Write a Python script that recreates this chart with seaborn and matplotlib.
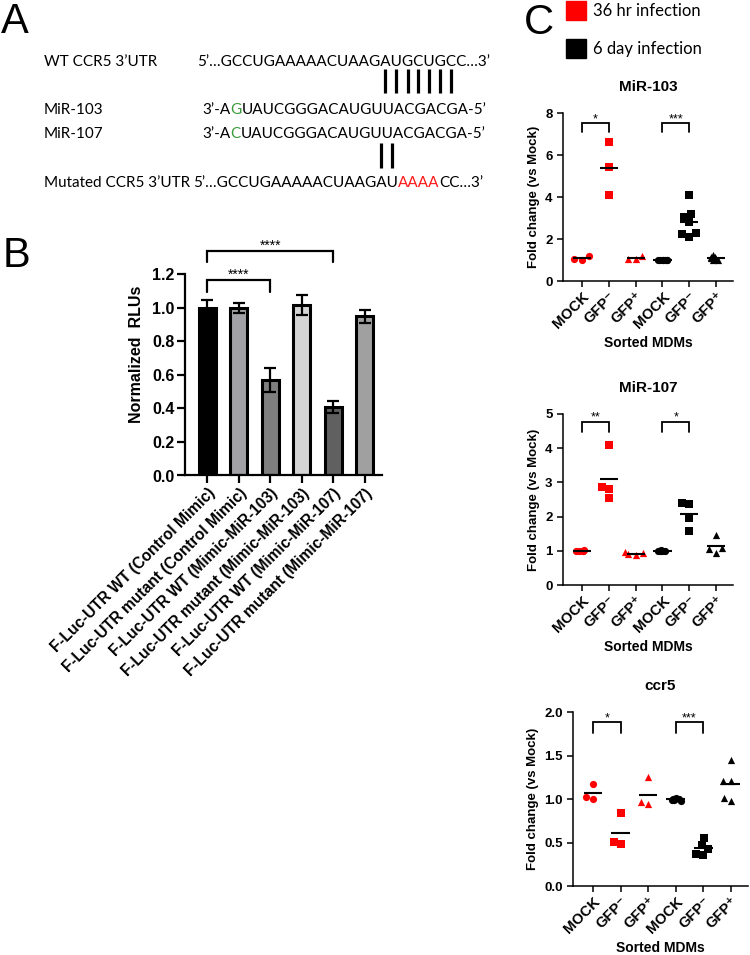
import warnings

import matplotlib.pyplot as plt
import numpy as np
import pandas as pd
import seaborn as sns
from matplotlib.font_manager import FontProperties
from matplotlib.patches import Rectangle
from matplotlib.ticker import FormatStrFormatter

warnings.filterwarnings("ignore")

# ---------------- panel A: seed pairing ----------------
wt_name = "WT CCR5 3’UTR"
wt_seq = "5’…GCCUGAAAAACUAAGAUGCUGCC…3’"
mir103_name = "MiR-103"
mir103_seq = ["3’-A", "G", "UAUCGGGACAUGUUACGACGA-5’"]
mir107_name = "MiR-107"
mir107_seq = ["3’-A", "C", "UAUCGGGACAUGUUACGACGA-5’"]
mut_name = "Mutated CCR5 3’UTR"
mut_seq = ["5’…GCCUGAAAAACUAAGAU", "AAAA", "CC…3’"]
wt_paired = "AUGCUGC"
mut_paired = "AU"

# ---------------- panel B: luciferase reporter ----------------
b_labels = ["F-Luc-UTR WT (Control Mimic)", "F-Luc-UTR mutant (Control Mimic)",
            "F-Luc-UTR WT (Mimic-MiR-103)", "F-Luc-UTR mutant (Mimic-MiR-103)",
            "F-Luc-UTR WT (Mimic-MiR-107)", "F-Luc-UTR mutant (Mimic-MiR-107)"]
b_means = [1.00, 1.00, 0.57, 1.02, 0.41, 0.95]
b_errs = [0.05, 0.03, 0.07, 0.06, 0.035, 0.04]
b_colors = ["#000000", "#a2a2a6", "#7f7f7f", "#d4d4d4", "#606060", "#a0a0a0"]

# ---------------- panel C: sorted MDMs ----------------
c_groups = ["MOCK", "GFP⁻", "GFP⁺", "MOCK", "GFP⁻", "GFP⁺"]
c_infection = ["36 hr infection"] * 3 + ["6 day infection"] * 3
c_colors = ["#ff0000"] * 3 + ["#000000"] * 3
c_markers = ["o", "s", "^", "o", "s", "^"]

mir103_values = [
    [1.18, 1.03, 1.02],
    [6.60, 5.45, 4.10],
    [1.18, 1.04, 1.03],
    [1.02, 1.01, 1.00, 1.00, 1.00, 0.99, 0.98],
    [4.10, 3.17, 3.06, 2.83, 2.30, 2.22, 2.11],
    [1.22, 1.16, 1.12, 1.10, 1.06, 1.02, 0.98],
]
mir107_values = [
    [1.01, 1.00, 1.00, 1.00, 0.99],
    [4.10, 2.88, 2.82, 2.55],
    [0.97, 0.93, 0.90, 0.88],
    [1.01, 1.00, 1.00, 1.00, 0.99],
    [2.40, 2.38, 1.95, 1.57],
    [1.45, 1.08, 1.04, 0.95],
]
ccr5_values = [
    [1.17, 1.02, 1.00],
    [0.84, 0.51, 0.48],
    [1.25, 0.96, 0.94],
    [1.01, 1.00, 1.00, 0.99, 0.99, 0.98],
    [0.55, 0.47, 0.42, 0.37, 0.36],
    [1.45, 1.21, 1.21, 1.01, 0.98],
]
mir103_sig = ["*", "***"]
mir107_sig = ["**", "*"]
ccr5_sig = ["*", "***"]

sns.set_style("ticks")
plt.rcParams["font.family"] = ["Liberation Sans", "DejaVu Sans"]
plt.rcParams["font.weight"] = "bold"
plt.rcParams["axes.labelweight"] = "bold"
plt.rcParams["axes.titleweight"] = "bold"
for key in ["axes.edgecolor", "xtick.color", "ytick.color", "text.color", "axes.labelcolor"]:
    plt.rcParams[key] = "black"

W, H = 750, 955
fig = plt.figure(figsize=(W / 100, H / 100), dpi=100)

# full-figure overlay in pixel units for the sequence diagram, letters and legend
ax_a = fig.add_axes([0, 0, 1, 1])
ax_a.set_xlim(0, W)
ax_a.set_ylim(H, 0)
ax_a.axis("off")
ax_a.patch.set_visible(False)
renderer = fig.canvas.get_renderer()


def text_width(s, fp):
    w, _, _ = renderer.get_text_width_height_descent(s, fp, ismath=False)
    return w


fp_a = FontProperties(family="Lato", weight="normal", size=10)
fp_a.set_size(10 * 291 / text_width(wt_seq, fp_a))


def seq_line(x, y, parts, colors):
    for s, c in zip(parts, colors):
        ax_a.text(x, y, s, fontproperties=fp_a, color=c, va="baseline", ha="left")
        x += text_width(s, fp_a)


def char_centers(x0, s, sub):
    i0 = s.index(sub)
    return [x0 + (text_width(s[:i], fp_a) + text_width(s[:i + 1], fp_a)) / 2
            for i in range(i0, i0 + len(sub))]


green = "#3a9b3a"
red_txt = "#ff1a1a"
ax_a.text(44, 66, wt_name, fontproperties=fp_a, va="baseline")
seq_line(197, 66, [wt_seq], ["black"])
ax_a.vlines(char_centers(197, wt_seq, wt_paired), 69, 93, color="black", lw=2.3)

ax_a.text(44, 114, mir103_name, fontproperties=fp_a, va="baseline")
seq_line(202, 114, mir103_seq, ["black", green, "black"])
ax_a.text(44, 138, mir107_name, fontproperties=fp_a, va="baseline")
seq_line(202, 138, mir107_seq, ["black", green, "black"])

mut_full = "".join(mut_seq)
ax_a.vlines(char_centers(193, mut_full, mut_paired + "AAAA")[:len(mut_paired)], 143, 168,
            color="black", lw=2.3)
ax_a.text(44, 187, mut_name, fontproperties=fp_a, va="baseline")
seq_line(193, 187, mut_seq, ["black", red_txt, "black"])

for letter, x, y in [("A", 1, 33), ("B", 3, 267), ("C", 524, 34)]:
    ax_a.text(x, y, letter, fontsize=30, fontweight="normal", va="baseline")

# legend of panel C
for i, (lab, col) in enumerate(zip(c_infection[::3], c_colors[::3])):
    y0 = 1 + i * 38
    ax_a.add_patch(Rectangle((566, y0), 20, 19, color=col))
    ax_a.text(593, y0 + 10, lab, family="Lato", fontsize=12, fontweight="normal",
              va="center")


def bracket(ax, x0, x1, y_top, y_bot, label, fs, lw):
    ax.plot([x0, x0, x1, x1], [y_bot, y_top, y_top, y_bot], color="black", lw=lw,
            clip_on=False, solid_joinstyle="miter")
    ax.annotate(label, xy=((x0 + x1) / 2, y_top), xytext=(0, 0.5),
                textcoords="offset points", ha="center", va="baseline",
                fontsize=fs, fontweight="normal", annotation_clip=False)


# ---------------- panel B ----------------
ax_b = fig.add_axes([185 / W, (H - 475.5) / H, 197 / W, 243 / H])
sns.barplot(x=b_labels, y=b_means, hue=b_labels, palette=b_colors, legend=False,
            saturation=1, width=0.53, edgecolor="black", linewidth=2.2, ax=ax_b)
ax_b.errorbar(np.arange(len(b_means)), b_means, yerr=b_errs, fmt="none",
              ecolor="black", elinewidth=1.6, capsize=4.2, capthick=1.6, zorder=4)
ax_b.set_xlim(-0.71, 5.55)
ax_b.set_ylim(0, 1.45)
ax_b.set_yticks(np.arange(0, 1.21, 0.2))
ax_b.yaxis.set_major_formatter(FormatStrFormatter("%.1f"))
ax_b.spines[["top", "right"]].set_visible(False)
ax_b.spines["left"].set_bounds(0, 1.2)
for s in ["left", "bottom"]:
    ax_b.spines[s].set_linewidth(1.6)
ax_b.tick_params(length=5.8, width=1.6, pad=1.5, labelsize=11.5)
ax_b.set_xticks(range(len(b_labels)))
ax_b.set_xticklabels(b_labels, rotation=45, ha="right", rotation_mode="anchor",
                     fontsize=11.2)
ax_b.set_ylabel("Normalized  RLUs", fontsize=11.5, labelpad=6)
bracket(ax_b, 0, 2, 1.167, 1.095, "****", 10, 1.6)
bracket(ax_b, 0, 4, 1.342, 1.275, "****", 10, 1.6)

# ---------------- panel C ----------------
c_keys = [f"{inf}: {grp}" for inf, grp in zip(c_infection, c_groups)]
np.random.seed(3)


def dot_panel(rect, values, title, yticks, yfmt, sig, br_top, br_bot, xlim):
    ax = fig.add_axes(rect)
    df = pd.DataFrame({
        "group": [k for k, v in zip(c_keys, values) for _ in v],
        "value": [x for v in values for x in v],
    })
    yspan = yticks[-1] - yticks[0]
    for key, col, mk in zip(c_keys, c_colors, c_markers):
        sub = df[df["group"] == key]
        # large tight clusters overlap as a jittered blob, the rest is swarmed
        if len(sub) >= 5 and np.ptp(sub["value"]) < 0.05 * yspan:
            sns.stripplot(data=sub, x="group", y="value", order=c_keys, color=col,
                          marker=mk, size=5.2, jitter=0.22, linewidth=0, ax=ax)
        else:
            sns.swarmplot(data=sub, x="group", y="value", order=c_keys, color=col,
                          marker=mk, size=5.2, linewidth=0, ax=ax)
    means = df.groupby("group", sort=False)["value"].mean().reindex(c_keys).values
    pos = np.arange(len(c_keys))
    ax.hlines(means, pos - 0.34, pos + 0.34, color="black", lw=1.5, zorder=5)

    ax.set_xlim(*xlim)
    ax.set_ylim(yticks[0], yticks[-1])
    ax.set_yticks(yticks)
    ax.set_yticklabels([yfmt.format(t) for t in yticks])
    ax.set_xticks(pos)
    ax.set_xticklabels(c_groups, rotation=45, ha="right", rotation_mode="anchor")
    ax.tick_params(length=4, width=1.1, labelsize=9.5)
    ax.tick_params(axis="x", labelsize=10.5, pad=2)
    ax.spines[["top", "right"]].set_visible(False)
    for s in ["left", "bottom"]:
        ax.spines[s].set_linewidth(1.1)
    ax.set_title(title, fontsize=11, pad=16)
    ax.set_ylabel("Fold change (vs Mock)", fontsize=9.5)
    ax.set_xlabel("Sorted MDMs", fontsize=10)
    ax.xaxis.set_label_coords(0.5, -55 / (rect[3] * H))
    bracket(ax, 0, 1, br_top, br_bot, sig[0], 9, 1.3)
    bracket(ax, 3, 4, br_top, br_bot, sig[1], 9, 1.3)
    return ax


dot_panel([563 / W, (H - 281) / H, 170 / W, 168 / H], mir103_values, "MiR-103",
          [0, 2, 4, 6, 8], "{:.0f}", mir103_sig, 7.52, 7.1, (-0.71, 5.63))
dot_panel([563 / W, (H - 585) / H, 170 / W, 171 / H], mir107_values, "MiR-107",
          [0, 1, 2, 3, 4, 5], "{:.0f}", mir107_sig, 4.78, 4.47, (-0.71, 5.63))
dot_panel([573 / W, (H - 886) / H, 175 / W, 174 / H], ccr5_values, "ccr5",
          [0, 0.5, 1.0, 1.5, 2.0], "{:.1f}", ccr5_sig, 1.88, 1.76, (-0.73, 5.63))

fig.savefig("out.png", dpi=100)
